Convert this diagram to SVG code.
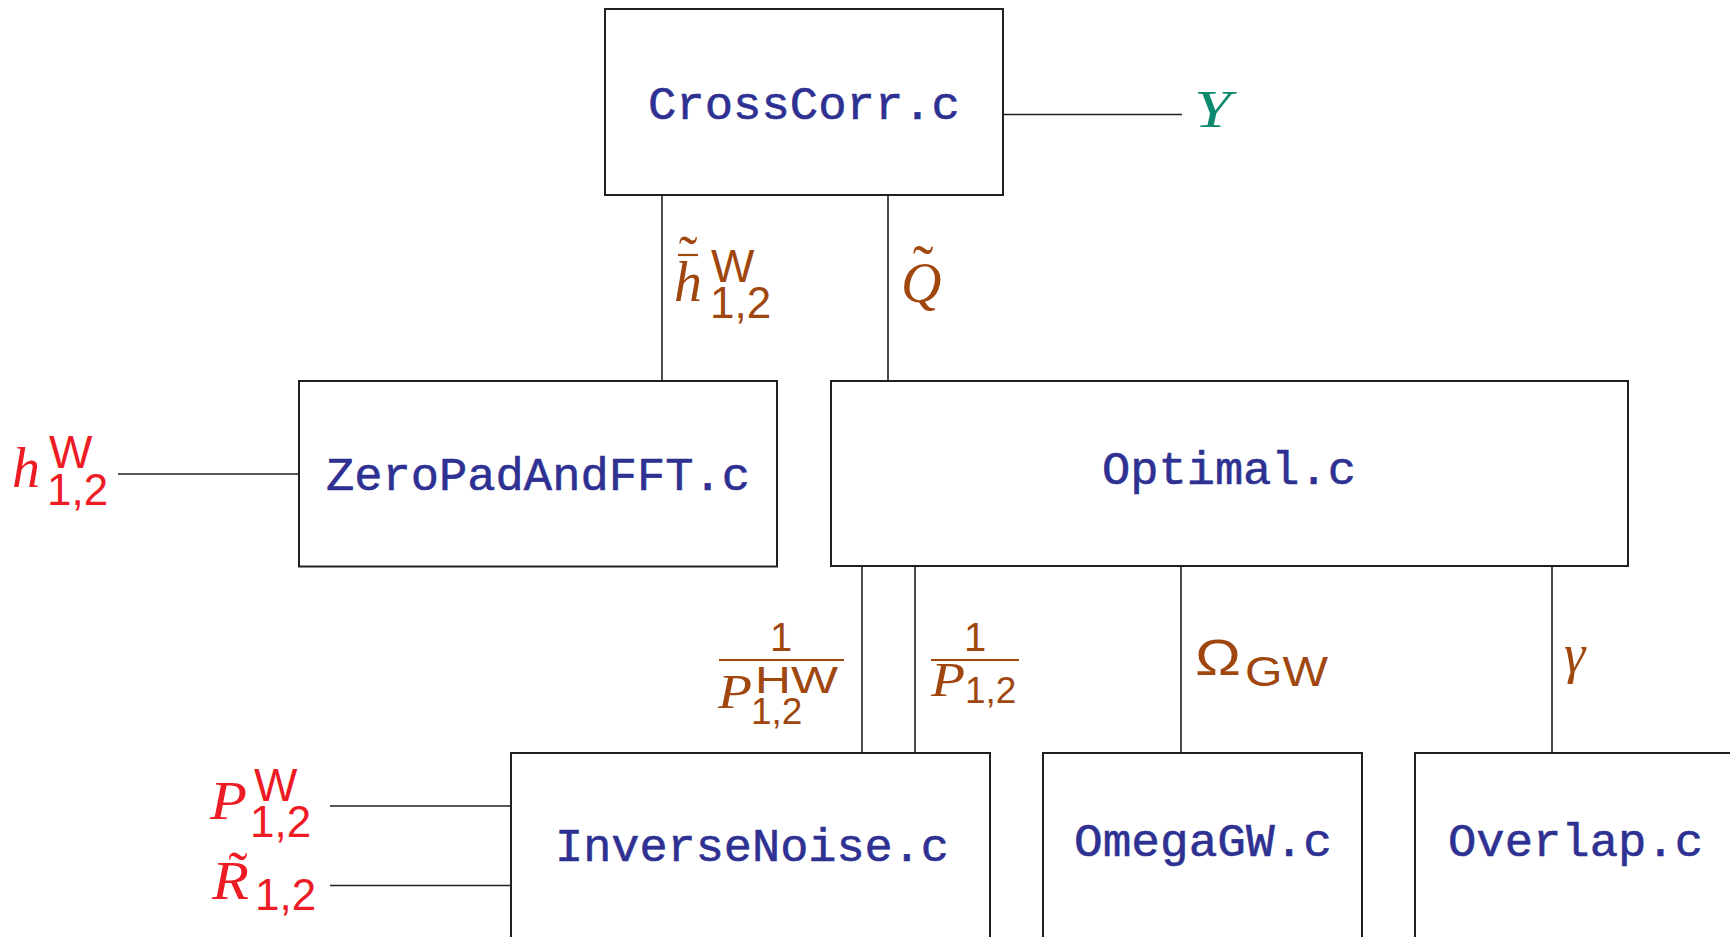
<svg xmlns="http://www.w3.org/2000/svg" width="1730" height="937" viewBox="0 0 1730 937">
<style>
.box{fill:#fff;stroke:#231f20;stroke-width:2}
.con{stroke:#231f20;stroke-width:1.6;fill:none}
.tt{font-family:"Liberation Mono",monospace;font-size:47px;fill:#2e3192;stroke:#2e3192;stroke-width:0.6}
.mi{font-family:"Liberation Serif",serif;font-style:italic}
.sf{font-family:"Liberation Sans",sans-serif}
.ac{font-family:"Liberation Serif",serif}
.red{fill:#ed1c24}
.brn{fill:#a0460f}
.tl{fill:#0d8a6f}
.bar{stroke:#a0460f;stroke-width:2.2}
</style>
<rect width="1730" height="937" fill="#fff"/>
<g id="connectors">
<line class="con" x1="995" y1="114.5" x2="1182" y2="114.5"/>
<line class="con" x1="662" y1="195" x2="662" y2="381"/>
<line class="con" x1="888" y1="195" x2="888" y2="381"/>
<line class="con" x1="118" y1="474" x2="304" y2="474"/>
<line class="con" x1="862" y1="566" x2="862" y2="753"/>
<line class="con" x1="915" y1="566" x2="915" y2="753"/>
<line class="con" x1="1181" y1="566" x2="1181" y2="753"/>
<line class="con" x1="1552" y1="566" x2="1552" y2="753"/>
<line class="con" x1="330" y1="806" x2="516" y2="806"/>
<line class="con" x1="330" y1="885.5" x2="516" y2="885.5"/>
</g>
<g id="crosscorr">
<rect class="box" x="605" y="9" width="398" height="186"/>
<text class="tt" x="648" y="118.5" textLength="312" lengthAdjust="spacingAndGlyphs">CrossCorr.c</text>
</g>
<g id="zeropad">
<rect class="box" x="299" y="381" width="478" height="185.5"/>
<text class="tt" x="326" y="490" textLength="424" lengthAdjust="spacingAndGlyphs">ZeroPadAndFFT.c</text>
</g>
<g id="optimal">
<rect class="box" x="831" y="381" width="797" height="185"/>
<text class="tt" x="1102" y="483.5" textLength="254" lengthAdjust="spacingAndGlyphs">Optimal.c</text>
</g>
<g id="inversenoise">
<rect class="box" x="511" y="753" width="479" height="250"/>
<text class="tt" x="555" y="861" textLength="394" lengthAdjust="spacingAndGlyphs">InverseNoise.c</text>
</g>
<g id="omegagw">
<rect class="box" x="1043" y="753" width="319" height="250"/>
<text class="tt" x="1074" y="855.5" textLength="258" lengthAdjust="spacingAndGlyphs">OmegaGW.c</text>
</g>
<g id="overlap">
<rect class="box" x="1415" y="753" width="400" height="250"/>
<text class="tt" x="1448" y="855.5" textLength="255" lengthAdjust="spacingAndGlyphs">Overlap.c</text>
</g>
<g id="label-Y">
<text class="mi tl" x="1194" y="127" font-size="53" textLength="37" lengthAdjust="spacingAndGlyphs">Y</text>
</g>
<g id="label-hW-input">
<text class="mi red" x="12" y="487" font-size="56">h</text>
<text class="sf red" x="49" y="468" font-size="46">W</text>
<text class="sf red" x="47" y="505" font-size="44">1,2</text>
</g>
<g id="label-PW-input">
<text class="mi red" x="210" y="819" font-size="55" textLength="37" lengthAdjust="spacingAndGlyphs">P</text>
<text class="sf red" x="254" y="801" font-size="46">W</text>
<text class="sf red" x="250" y="836.5" font-size="44">1,2</text>
</g>
<g id="label-R-input">
<text class="mi red" x="212" y="899" font-size="55" textLength="37" lengthAdjust="spacingAndGlyphs">R</text>
<text class="ac red" x="238" y="891" font-size="58" text-anchor="middle">˜</text>
<text class="sf red" x="255" y="910" font-size="44">1,2</text>
</g>
<g id="label-htilde">
<text class="ac brn" x="688" y="275" font-size="56" text-anchor="middle">˜</text>
<line class="bar" x1="678" y1="255" x2="698" y2="255"/>
<text class="mi brn" x="674" y="301" font-size="56">h</text>
<text class="sf brn" x="711" y="282" font-size="46">W</text>
<text class="sf brn" x="710" y="318" font-size="44">1,2</text>
</g>
<g id="label-Q">
<text class="mi brn" x="901" y="301.5" font-size="56">Q</text>
<text class="ac brn" x="923" y="288" font-size="62" text-anchor="middle">˜</text>
</g>
<g id="label-inv-PHW">
<text class="sf brn" x="781" y="651" font-size="40" text-anchor="middle">1</text>
<line class="bar" x1="719" y1="660" x2="844" y2="660"/>
<text class="mi brn" x="718" y="708" font-size="48" textLength="34" lengthAdjust="spacingAndGlyphs">P</text>
<text class="sf brn" x="755" y="693" font-size="37" textLength="83" lengthAdjust="spacingAndGlyphs">HW</text>
<text class="sf brn" x="751" y="723.5" font-size="37">1,2</text>
</g>
<g id="label-inv-P">
<text class="sf brn" x="975" y="651" font-size="40" text-anchor="middle">1</text>
<line class="bar" x1="931" y1="660" x2="1019" y2="660"/>
<text class="mi brn" x="931" y="696" font-size="48" textLength="34" lengthAdjust="spacingAndGlyphs">P</text>
<text class="sf brn" x="965" y="703" font-size="37">1,2</text>
</g>
<g id="label-omega">
<text class="sf brn" x="1195" y="675" font-size="50" textLength="46" lengthAdjust="spacingAndGlyphs">Ω</text>
<text class="sf brn" x="1245" y="686" font-size="43" textLength="83" lengthAdjust="spacingAndGlyphs">GW</text>
</g>
<g id="label-gamma">
<text class="mi brn" x="1564" y="672" font-size="54">γ</text>
</g>
</svg>
